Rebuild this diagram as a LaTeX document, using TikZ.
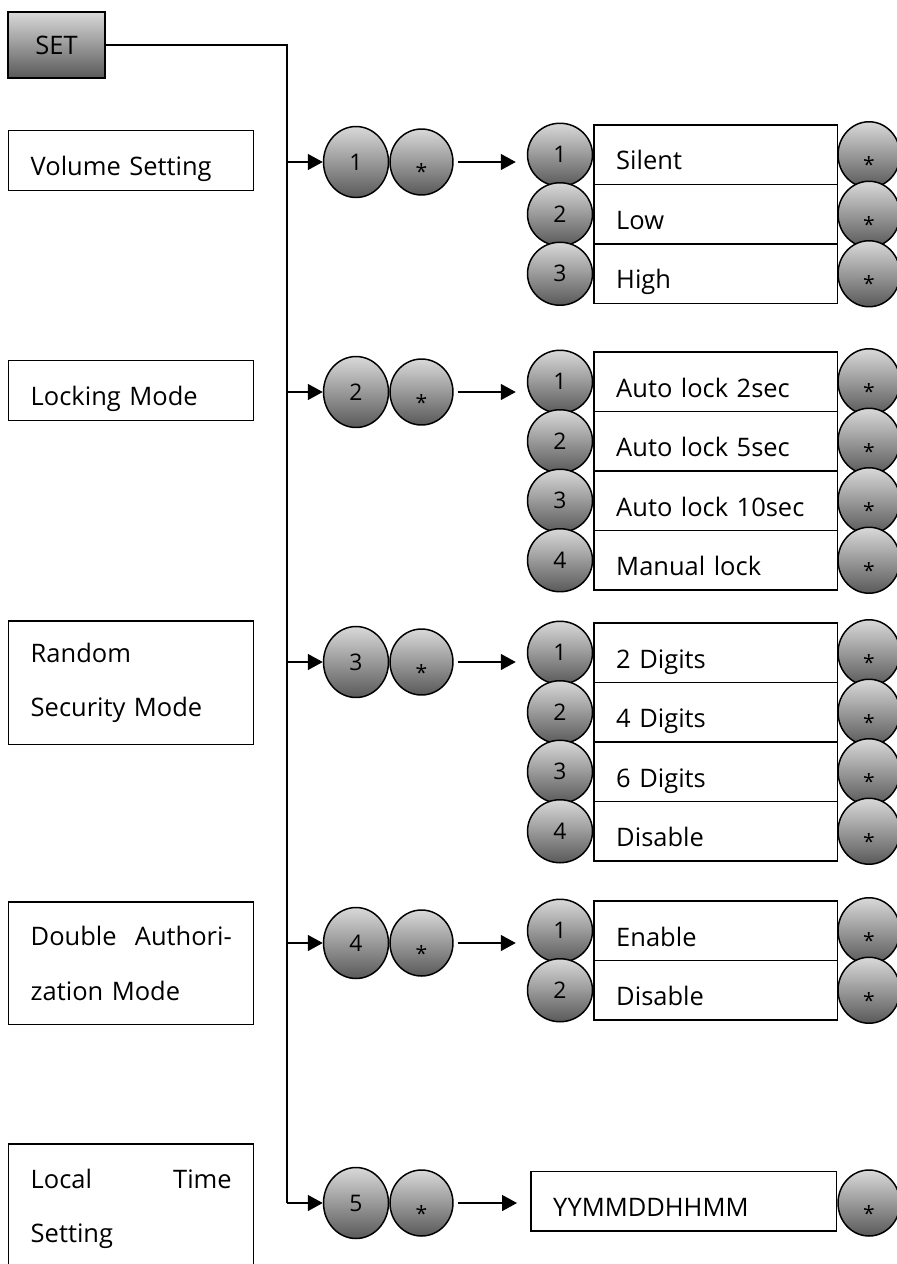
\documentclass[tikz,border=0pt]{standalone}
\usepackage{fontspec}
\setmainfont{Open Sans}
\usetikzlibrary{shapes.geometric,arrows.meta,positioning}

\begin{document}
\begin{tikzpicture}[x=0.02cm,y=-0.02cm,line width=0.85pt,
    feed/.style={-{Triangle[length=0.3cm,width=0.32cm]}},
    metal/.style={top color=black!15,bottom color=black!65},
    menu/.style={draw,anchor=north west,text width=4.02cm,inner xsep=0.44cm,align=left,
        font=\fontsize{14.5}{31}\selectfont},
    oneline/.style={minimum height=1.2cm,text height=0.66cm,text depth=0.05cm},
    optrow/.style={draw,fill=white,anchor=west,minimum height=1.19cm,text width=3.98cm,
        inner xsep=0.45cm,align=left,text height=0.66cm,text depth=0.05cm,
        font=\fontsize{14.5}{17}\selectfont},
    ball/.style={metal,draw,ellipse,inner sep=0pt},
    numkey/.style={ball,minimum width=1.3cm,minimum height=1.42cm,font=\fontsize{13}{13}\selectfont},
    starkey/.style={ball,minimum width=1.26cm,minimum height=1.32cm,text height=0.72cm,text depth=0cm,
        font=\fontsize{12}{12}\selectfont},
    optkey/.style={ball,minimum width=1.3cm,minimum height=1.26cm,font=\fontsize{13}{13}\selectfont},
    endkey/.style={starkey,minimum width=1.24cm}]
  \useasboundingbox (0,0) rectangle (896,1264);

  \node[metal,draw,minimum width=1.94cm,minimum height=1.32cm,font=\fontsize{14.5}{17}\selectfont] (set) at (56.5,45) {SET};
  \coordinate (trunk) at (287,45);

  % menu entries
  \node[menu,oneline] (m1) at (8,130) {Volume Setting};
  \node[menu,oneline] (m2) at (8,360) {Locking Mode};
  \node[menu,minimum height=2.48cm] (m3) at (8,620) {Random\\Security Mode};
  \node[menu,minimum height=2.46cm] (m4) at (8,901) {\hbox to 4.02cm{Double\hfill Authori-}\\zation Mode};
  \node[menu,minimum height=2.6cm] (m5) at (8,1143) {\hbox to 4.02cm{Local\hfill Time}\\Setting};

  % key presses
  \foreach \i/\y in {1/162,2/392,3/662,4/943,5/1203} {
    \node[numkey] (n\i) at (356,\y) {\i};
    \node[starkey,right=0pt of n\i] (s\i) {*};
    \draw[feed] (trunk |- n\i.west) -- (n\i.west);
  }
  \draw (set.east) -- (trunk) -- (trunk |- n5.west);

  % option lists
  \foreach \g/\top/\list in {1/125/{Silent,Low,High},
      2/352/{Auto lock 2sec,Auto lock 5sec,Auto lock 10sec,Manual lock},
      3/623/{2 Digits,4 Digits,6 Digits,Disable},
      4/901/{Enable,Disable}} {
    \foreach \txt [count=\i] in \list {
      \node[optkey] (o\g-\i) at (560,{\top+(\i-0.5)*59.5}) {\i};
      \node[optrow] (r\g-\i) at (593,{\top+(\i-0.5)*59.5}) {\txt};
      \node[endkey] (e\g-\i) at (869,{\top+(\i-0.5)*59.5}) {*};
    }
    \draw[feed,shorten <=0.08cm,shorten >=0.22cm] (s\g.east) -- (s\g.east -| o\g-1.west);
  }

  \node[optrow,text width=5.22cm] (t5) at (530,1201) {YYMMDDHHMM};
  \node[endkey] (e5) at (869,1203) {*};
  \draw[feed,shorten <=0.08cm,shorten >=0.26cm] (s5.east) -- (s5.east -| t5.west);
\end{tikzpicture}
\end{document}
